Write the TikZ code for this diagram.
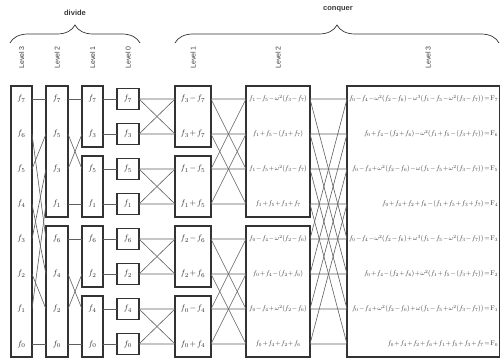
\documentclass[tikz,border=0pt]{standalone}
\usepackage{amsmath}
\usepackage{fontspec}
\setsansfont{Liberation Sans}
\usetikzlibrary{decorations.pathreplacing}
\definecolor{Ink}{HTML}{333333}
\definecolor{Wire}{HTML}{5E5E5E}
\definecolor{Tag}{HTML}{3A3A3A}
\newcommand{\tight}{\medmuskip=1.5mu\thickmuskip=2mu\relax}
\newcommand{\fsum}[1]{\scalebox{0.68}{$\tight #1$}}

\begin{document}
\begin{tikzpicture}[x=1pt,y=-1pt,
  box/.style={draw=Ink,line width=1.1pt},
  wire/.style={Wire,line width=0.6pt},
  lvl/.style={rotate=90,text=Tag,font=\sffamily\fontsize{7}{8}\selectfont},
  grp/.style={text=Tag,font=\sffamily\bfseries\fontsize{7.5}{8}\selectfont},
  brc/.style={Ink,line width=0.7pt,decorate,decoration={brace,amplitude=18pt}},
  elem/.style={text=Ink,inner sep=1pt,font=\footnotesize},
  sum/.style={text=Ink,inner sep=0pt}]
  \useasboundingbox (0,0) rectangle (501,358);
  \node[grp] (divide) at (75,13) {divide};
  \node[grp] (conquer) at (338,9) {conquer};
  \draw[brc] (10,43) -- (140,43);
  \draw[brc] (175,43) -- (499,43);
  \foreach \n/\x/\t in {d3/21.5/3,d2/57/2,d1/92.5/1,d0/128/0,c1/193/1,c2/278/2,c3/428/3}
    \node[lvl] (lv-\n) at (\x,57.5) {Level \t};
  \draw[box] (11,86) rectangle (32,357);
  \draw[box] (46,86) rectangle (68,217) (46,226) rectangle (68,357);
  \foreach \t in {86,156,226,296}{
    \draw[box] (82,\t) rectangle (103,\t+61);
    \draw[box] (175,\t) rectangle (211,\t+61);
  }
  \foreach \i in {0,...,7}
    \draw[box] (117,{88.5+35*\i}) rectangle (139,{109.5+35*\i});
  \draw[box] (246,86) rectangle (310,217) (246,226) rectangle (310,357);
  \draw[box] (347,86) rectangle (499.5,357);
  \foreach \i in {0,...,7}{
    \coordinate (d3R\i) at (32,{99+35*\i});
    \coordinate (d2L\i) at (46,{99+35*\i});
    \coordinate (d2R\i) at (68,{99+35*\i});
    \coordinate (d1L\i) at (82,{99+35*\i});
    \coordinate (d1R\i) at (103,{99+35*\i});
    \coordinate (d0L\i) at (117,{99+35*\i});
    \coordinate (d0R\i) at (139,{99+35*\i});
    \coordinate (c1L\i) at (175,{99+35*\i});
    \coordinate (c1R\i) at (211,{99+35*\i});
    \coordinate (c2L\i) at (246,{99+35*\i});
    \coordinate (c2R\i) at (310,{99+35*\i});
    \coordinate (c3L\i) at (347,{99+35*\i});
  }
  \foreach \i/\j in {0/0,1/4,2/1,3/5,4/2,5/6,6/3,7/7}
    \draw[wire] (d3R\i) -- (d2L\j);
  \foreach \i/\j in {0/0,1/2,2/1,3/3,4/4,5/6,6/5,7/7}
    \draw[wire] (d2R\i) -- (d1L\j);
  \foreach \i in {0,...,7}
    \draw[wire] (d1R\i) -- (d0L\i);
  \foreach \i/\j in {0/1,1/0,2/3,3/2,4/5,5/4,6/7,7/6}
    \draw[wire] (d0R\i) -- (c1L\i) (d0R\i) -- (c1L\j);
  \foreach \i/\j in {0/2,1/3,2/0,3/1,4/6,5/7,6/4,7/5}
    \draw[wire] (c1R\i) -- (c2L\i) (c1R\i) -- (c2L\j);
  \foreach \i/\j in {0/4,1/5,2/6,3/7,4/0,5/1,6/2,7/3}
    \draw[wire] (c2R\i) -- (c3L\i) (c2R\i) -- (c3L\j);
  \foreach \i/\k in {0/7,1/6,2/5,3/4,4/3,5/2,6/1,7/0}
    \node[elem] (d3f\i) at (21.5,{99+35*\i}) {$f_{\k}$};
  \foreach \i/\k in {0/7,1/5,2/3,3/1,4/6,5/4,6/2,7/0}
    \node[elem] (d2f\i) at (57,{99+35*\i}) {$f_{\k}$};
  \foreach \i/\k in {0/7,1/3,2/5,3/1,4/6,5/2,6/4,7/0}{
    \node[elem] (d1f\i) at (92.5,{99+35*\i}) {$f_{\k}$};
    \node[elem] (d0f\i) at (128,{99+35*\i}) {$f_{\k}$};
  }
  \foreach \i/\a/\s/\b in {0/3/-/7,1/3/+/7,2/1/-/5,3/1/+/5,4/2/-/6,5/2/+/6,6/0/-/4,7/0/+/4}
    \node[elem] (c1f\i) at (193,{99+35*\i}) {$\tight f_{\a}\s f_{\b}$};
  \foreach \i/\txt in {0/{f_1-f_5-\omega^2(f_3-f_7)},1/{f_1+f_5-(f_3+f_7)},
      2/{f_1-f_5+\omega^2(f_3-f_7)},3/{f_1+f_5+f_3+f_7},
      4/{f_0-f_4-\omega^2(f_2-f_6)},5/{f_0+f_4-(f_2+f_6)},
      6/{f_0-f_4+\omega^2(f_2-f_6)},7/{f_0+f_4+f_2+f_6}}
    \node[sum] (c2f\i) at (278,{99+35*\i}) {\fsum{\txt}};
  \foreach \i/\txt in {0/{f_0-f_4-\omega^2(f_2-f_6)-\omega^3(f_1-f_5-\omega^2(f_3-f_7))=\mathrm{F}_7},
      1/{f_0+f_4-(f_2+f_6)-\omega^2(f_1+f_5-(f_3+f_7))=\mathrm{F}_6},
      2/{f_0-f_4+\omega^2(f_2-f_6)-\omega(f_1-f_5+\omega^2(f_3-f_7))=\mathrm{F}_5},
      3/{f_0+f_4+f_2+f_6-(f_1+f_5+f_3+f_7)=\mathrm{F}_4},
      4/{f_0-f_4-\omega^2(f_2-f_6)+\omega^3(f_1-f_5-\omega^2(f_3-f_7))=\mathrm{F}_3},
      5/{f_0+f_4-(f_2+f_6)+\omega^2(f_1+f_5-(f_3+f_7))=\mathrm{F}_2},
      6/{f_0-f_4+\omega^2(f_2-f_6)+\omega(f_1-f_5+\omega^2(f_3-f_7))=\mathrm{F}_1},
      7/{f_0+f_4+f_2+f_6+f_1+f_5+f_3+f_7=\mathrm{F}_0}}
    \node[sum,anchor=east] (c3f\i) at (498,{99+35*\i}) {\fsum{\txt}};
\end{tikzpicture}
\end{document}
